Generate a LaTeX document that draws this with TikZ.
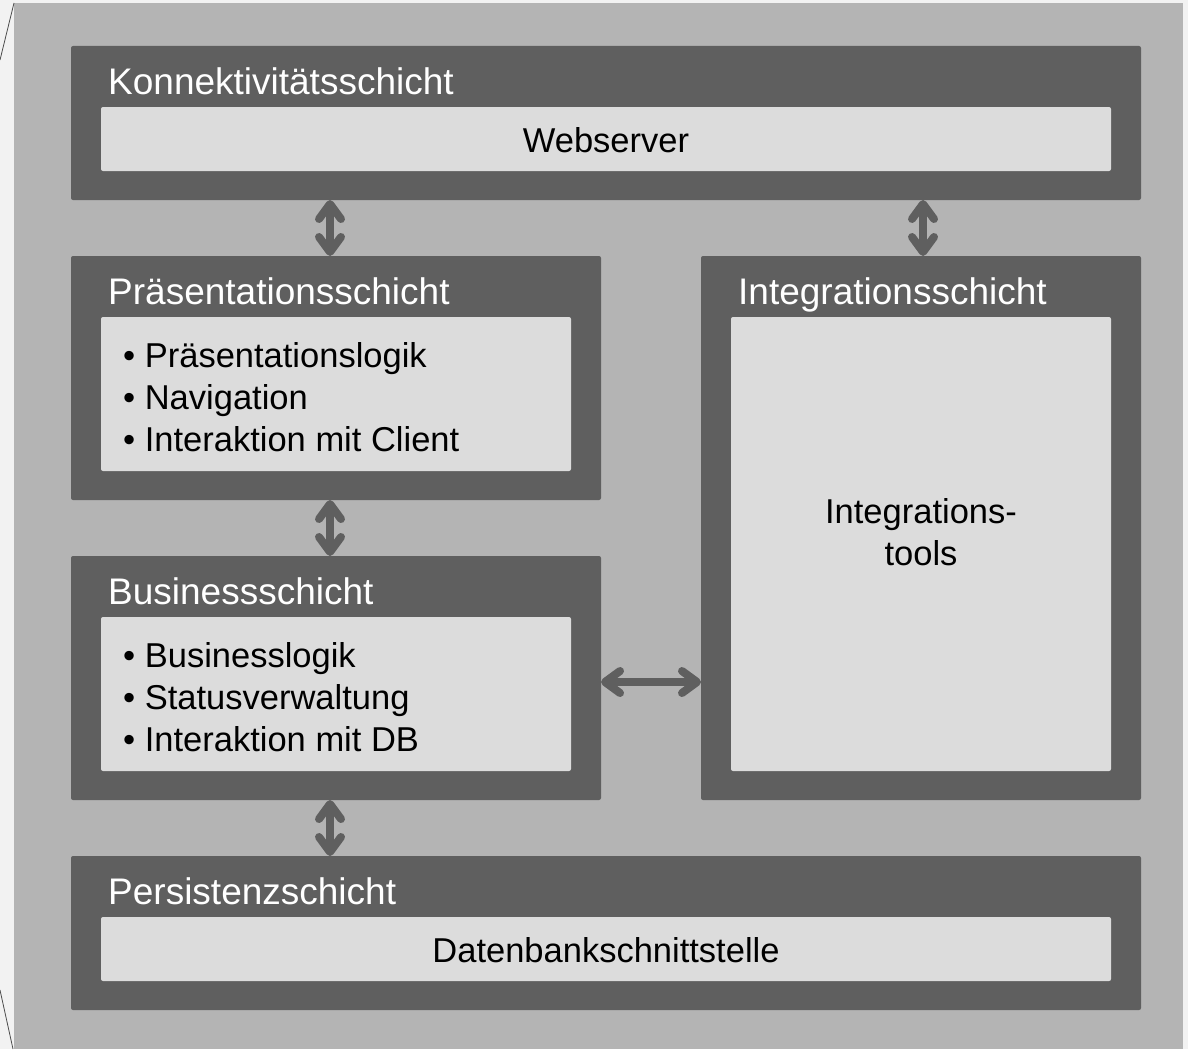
\documentclass[tikz,border=0pt]{standalone}
\usepackage{fontspec}
\setmainfont{Liberation Sans}
\usetikzlibrary{arrows.meta}
\definecolor{bggray}{HTML}{B4B4B4}
\definecolor{darkbox}{HTML}{5F5F5F}
\definecolor{lightbox}{HTML}{DCDCDC}
\definecolor{paper}{HTML}{F2F2F2}
\tikzset{
  layer/.style={fill=darkbox, draw=none, rounded corners=2pt},
  inner/.style={fill=lightbox, draw=none, rounded corners=2pt},
  header/.style={anchor=base west, text=white, font=\fontsize{37}{40}\selectfont, inner sep=0pt},
  content/.style={text=black, font=\fontsize{34.5}{42}\selectfont, inner sep=0pt},
  conn/.style={draw=darkbox, line width=8pt, {Straight Barb[length=15pt,width=22pt,round]}-{Straight Barb[length=15pt,width=22pt,round]}}
}
\begin{document}
\begin{tikzpicture}[x=1pt,y=-1pt]
\useasboundingbox (0,0) rectangle (1188,1049);
\fill[paper] (0,0) rectangle (1188,1049);
\fill[bggray] (14,3) rectangle (1183,1049);
\draw[black!70, line width=0.8pt] (14,3) -- (0,60);
\draw[black!70, line width=0.8pt] (0,990) -- (13,1049);

% Konnektivitaetsschicht
\fill[layer] (71,46) rectangle (1141,200);
\node[header] (konnH) at (108,94) {Konnektivitätsschicht};
\fill[inner] (101,107) rectangle (1111,171);
\node[content] (webserver) at (606,140) {Webserver};

% Praesentationsschicht
\fill[layer] (71,256) rectangle (601,500);
\node[header] (praesH) at (108,304) {Präsentationsschicht};
\fill[inner] (101,317) rectangle (571,471);
\node[content, anchor=west, align=left] (praesL) at (123,397) {\textbullet\ Präsentationslogik\\\textbullet\ Navigation\\\textbullet\ Interaktion mit Client};

% Integrationsschicht
\fill[layer] (701,256) rectangle (1141,800);
\node[header] (integH) at (738,304) {Integrationsschicht};
\fill[inner] (731,317) rectangle (1111,771);
\node[content, align=center] (integT) at (921,532) {Integrations-\\tools};

% Businessschicht
\fill[layer] (71,556) rectangle (601,800);
\node[header] (busH) at (108,604) {Businessschicht};
\fill[inner] (101,617) rectangle (571,771);
\node[content, anchor=west, align=left] (busL) at (123,697) {\textbullet\ Businesslogik\\\textbullet\ Statusverwaltung\\\textbullet\ Interaktion mit DB};

% Persistenzschicht
\fill[layer] (71,856) rectangle (1141,1010);
\node[header] (persH) at (108,904) {Persistenzschicht};
\fill[inner] (101,917) rectangle (1111,981);
\node[content] (dbs) at (606,950) {Datenbankschnittstelle};

% connector end points
\coordinate (a1) at (330,200);
\coordinate (a2) at (330,256);
\coordinate (b1) at (923,200);
\coordinate (b2) at (923,256);
\coordinate (c1) at (330,500);
\coordinate (c2) at (330,556);
\coordinate (d1) at (330,800);
\coordinate (d2) at (330,856);
\coordinate (e1) at (601,682);
\coordinate (e2) at (701,682);
\draw[conn] (a1) -- (a2);
\draw[conn] (b1) -- (b2);
\draw[conn] (c1) -- (c2);
\draw[conn] (d1) -- (d2);
\draw[conn] (e1) -- (e2);
\end{tikzpicture}
\end{document}
